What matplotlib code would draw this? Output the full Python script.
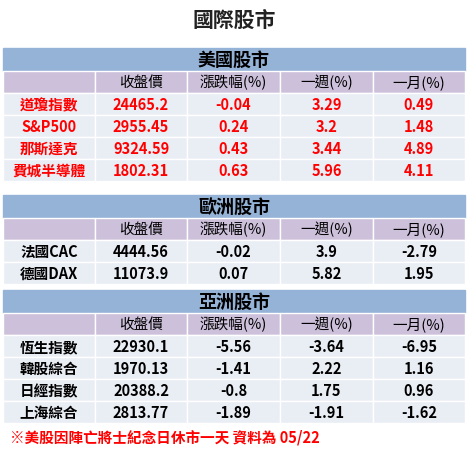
import matplotlib.pyplot as plt
from matplotlib.patches import Rectangle

plt.rcParams['font.family'] = ['Noto Sans CJK TC', 'DejaVu Sans']

title = "國際股市"
columns = ["", "收盤價", "漲跌幅(%)", "一週(%)", "一月(%)"]
footnote = "※美股因陣亡將士紀念日休市一天 資料為 05/22"

us_names = ["道瓊指數", "S&P500", "那斯達克", "費城半導體"]
us_close = ["24465.2", "2955.45", "9324.59", "1802.31"]
us_chg = ["-0.04", "0.24", "0.43", "0.63"]
us_week = ["3.29", "3.2", "3.44", "5.96"]
us_month = ["0.49", "1.48", "4.89", "4.11"]

eu_names = ["法國CAC", "德國DAX"]
eu_close = ["4444.56", "11073.9"]
eu_chg = ["-0.02", "0.07"]
eu_week = ["3.9", "5.82"]
eu_month = ["-2.79", "1.95"]

as_names = ["恆生指數", "韓股綜合", "日經指數", "上海綜合"]
as_close = ["22930.1", "1970.13", "20388.2", "2813.77"]
as_chg = ["-5.56", "-1.41", "-0.8", "-1.89"]
as_week = ["-3.64", "2.22", "1.75", "-1.91"]
as_month = ["-6.95", "1.16", "0.96", "-1.62"]

sections = [
    ("美國股市", 49, us_names, us_close, us_chg, us_week, us_month, "#FF0000"),
    ("歐洲股市", 196, eu_names, eu_close, eu_chg, eu_week, eu_month, "black"),
    ("亞洲股市", 291, as_names, as_close, as_chg, as_week, as_month, "black"),
]

W, H = 468, 452
fig = plt.figure(figsize=(W / 100, H / 100), dpi=100)
ax = fig.add_axes([0, 0, 1, 1])
ax.set_xlim(0, W)
ax.set_ylim(H, 0)
ax.axis("off")

xs = [3, 95, 187, 280, 373, 465]
rh = 22

ax.text(W / 2, 20, title, ha="center", va="center", fontsize=15, fontweight="bold", color="#222222")

for name, y0, names, close, chg, week, month, color in sections:
    ax.add_patch(Rectangle((xs[0], y0), xs[-1] - xs[0], 23, color="#95B3D7"))
    ax.text(W / 2, y0 + 11.5, name, ha="center", va="center", fontsize=13, fontweight="bold", color="black")
    y = y0 + 23
    for i in range(5):
        ax.add_patch(Rectangle((xs[i], y), xs[i + 1] - xs[i], rh, facecolor="#CCC0DA", edgecolor="white", lw=1))
        ax.text((xs[i] + xs[i + 1]) / 2, y + rh / 2, columns[i], ha="center", va="center", fontsize=10.5, color="black")
    y += rh
    for r in range(len(names)):
        row = [names[r], close[r], chg[r], week[r], month[r]]
        for i in range(5):
            ax.add_patch(Rectangle((xs[i], y), xs[i + 1] - xs[i], rh, facecolor="#E9EDF4", edgecolor="white", lw=1))
            ax.text((xs[i] + xs[i + 1]) / 2, y + rh / 2, row[i], ha="center", va="center",
                    fontsize=10.5, fontweight="bold", color=color)
        y += rh

ax.text(10, 438, footnote, ha="left", va="center", fontsize=10.5, fontweight="bold", color="#FF0000")

fig.savefig("out.png", dpi=100)
